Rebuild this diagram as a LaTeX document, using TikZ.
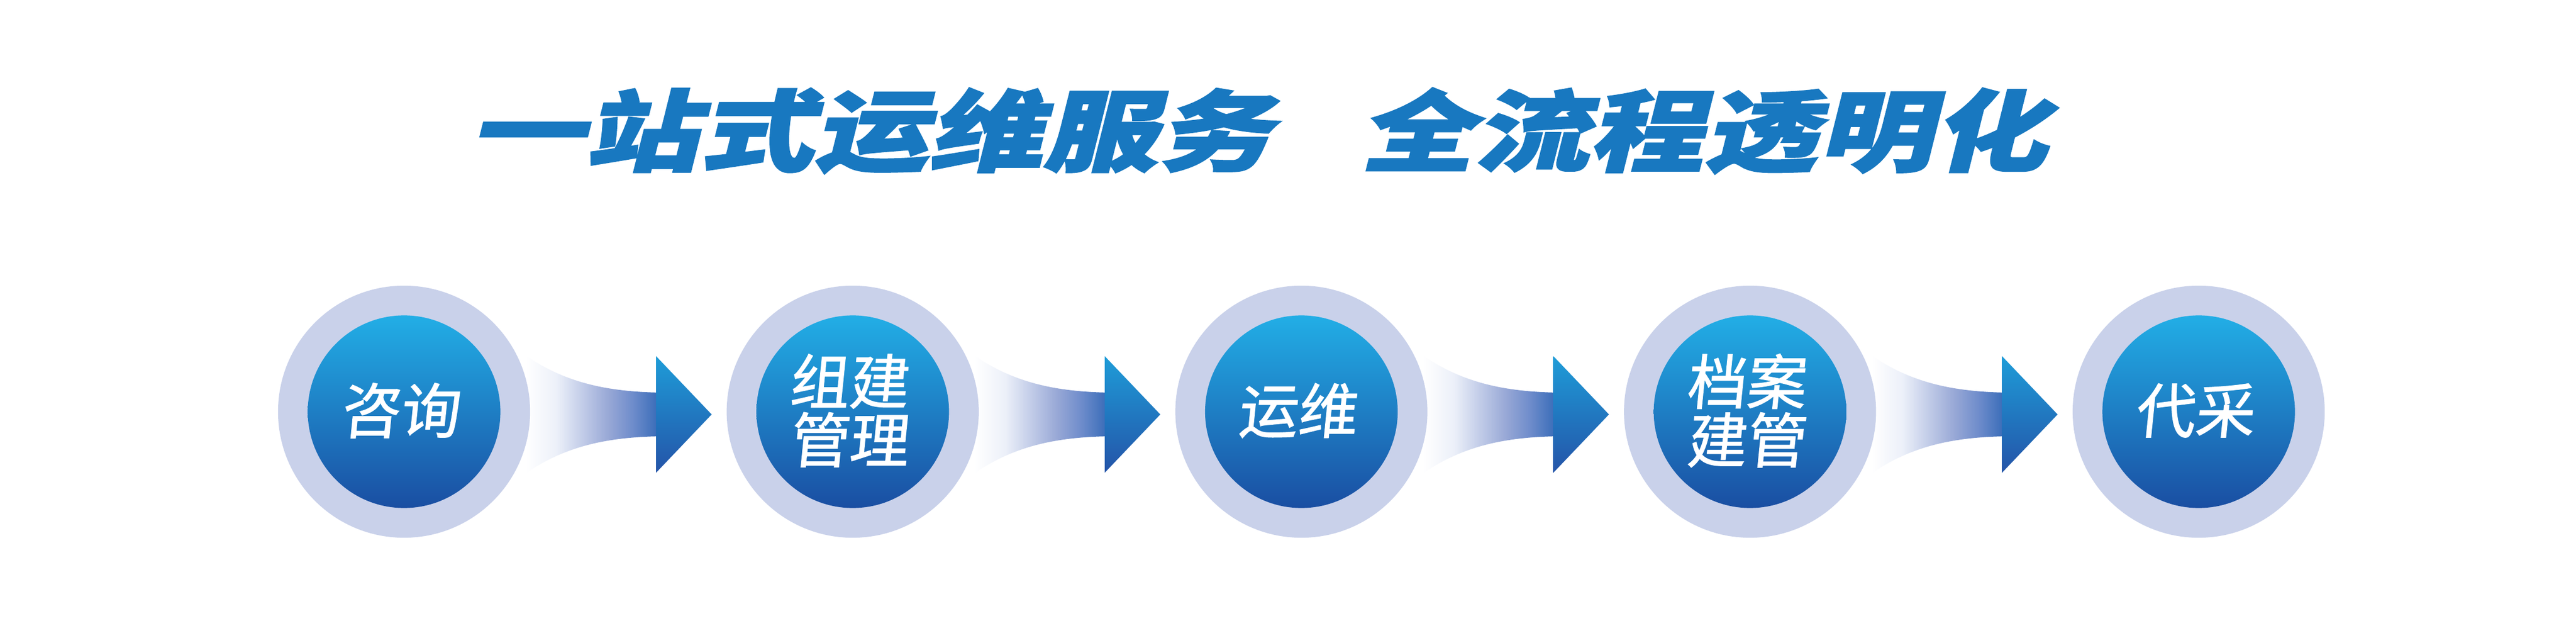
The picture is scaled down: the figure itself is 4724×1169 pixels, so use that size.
\documentclass[tikz,border=0pt]{standalone}
\usepackage{fontspec}
\newfontfamily\cjkfont{Noto Sans CJK SC}[FakeSlant=0.1,FakeBold=1.2]
\newfontfamily\cjktitle{Noto Sans CJK SC}[FakeSlant=0.25,FakeStretch=1.3,FakeBold=2]
\definecolor{ringcol}{RGB}{201,209,234}
\definecolor{titlecol}{RGB}{24,120,192}
\definecolor{intop}{RGB}{34,174,230}
\definecolor{inmid}{RGB}{24,134,202}
\definecolor{inbot}{RGB}{26,78,162}
\definecolor{headtop}{RGB}{30,156,216}
\definecolor{headbot}{RGB}{36,84,168}
\definecolor{sta}{RGB}{236,240,249}
\definecolor{stb}{RGB}{196,206,233}
\definecolor{stc}{RGB}{152,168,214}
\definecolor{std}{RGB}{110,140,203}
\definecolor{ste}{RGB}{58,109,185}
\pgfdeclarehorizontalshading{stemshade}{100bp}{color(0bp)=(white); color(31bp)=(white); color(41bp)=(sta); color(49bp)=(stb); color(58bp)=(stc); color(66bp)=(std); color(74bp)=(ste); color(100bp)=(ste)}
\tikzset{
  ringc/.style={circle, fill=ringcol, draw=none, inner sep=0pt, minimum size=4.62cm},
  innerc/.style={circle, draw=none, inner sep=0pt, minimum size=3.53cm,
    top color=intop, middle color=inmid, bottom color=inbot},
  labeltext/.style={text=white, align=center, inner sep=0pt,
    font=\cjkfont\fontsize{31pt}{30.5pt}\selectfont},
  titletext/.style={text=titlecol, inner sep=0pt,
    font=\cjktitle\bfseries\fontsize{46pt}{50pt}\selectfont},
}
\begin{document}
\begin{tikzpicture}[x=0.01cm,y=0.01cm]
\useasboundingbox (0,0) rectangle (4724,1169);
\fill[white] (0,0) rectangle (4724,1169);
% title
\node[titletext] (title1) at (1597,929) {一站式运维服务};
\node[titletext] (title2) at (3124,929) {全流程透明化};
% arrows
\foreach \x in {741,1563.75,2386.5,3209.25}{
  \begin{scope}[shift={(\x,409)}]
    \shade[shading=stemshade] (190,133) .. controls (275,62) and (360,42) .. (470,40)
      -- (470,-40) .. controls (360,-42) and (275,-62) .. (190,-133) -- cycle;
    \shade[top color=headtop, bottom color=headbot] (462,107) -- (564,0) -- (462,-107) -- cycle;
  \end{scope}
}
% circles
\node[ringc] (r1) at (741,414) {};
\node[ringc] (r2) at (1563.75,414) {};
\node[ringc] (r3) at (2386.5,414) {};
\node[ringc] (r4) at (3209.25,414) {};
\node[ringc] (r5) at (4032,414) {};
\node[innerc] (c1) at (r1.center) {};
\node[innerc] (c2) at (r2.center) {};
\node[innerc] (c3) at (r3.center) {};
\node[innerc] (c4) at (r4.center) {};
\node[innerc] (c5) at (r5.center) {};
% labels
\node[labeltext] (t1) at ([shift={(-8,2)}]c1.center) {咨询};
\node[labeltext] (t2) at ([shift={(-8,2)}]c2.center) {组建\\管理};
\node[labeltext] (t3) at ([shift={(-8,2)}]c3.center) {运维};
\node[labeltext] (t4) at ([shift={(-8,2)}]c4.center) {档案\\建管};
\node[labeltext] (t5) at ([shift={(-8,2)}]c5.center) {代采};
\end{tikzpicture}
\end{document}
